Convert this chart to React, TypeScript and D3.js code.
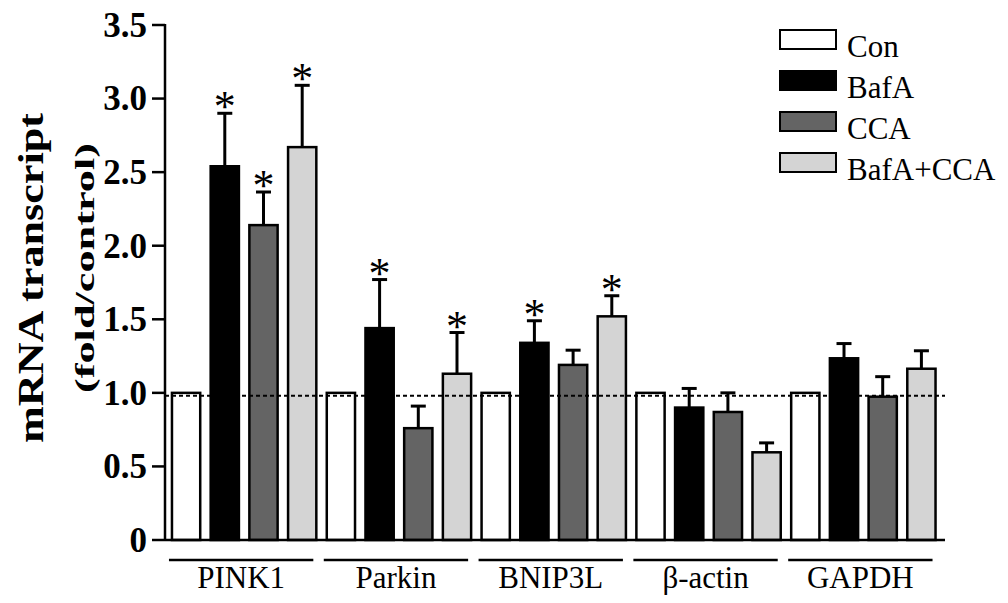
import React from "react";
import * as d3 from "d3";

const genes = ["PINK1", "Parkin", "BNIP3L", "β-actin", "GAPDH"];
const treatments = ["Con", "BafA", "CCA", "BafA+CCA"];
const fills = ["#ffffff", "#000000", "#646464", "#d4d4d4"];
// mean values per gene, in treatment order
const meanPINK1 = [1.0, 2.54, 2.14, 2.67];
const meanParkin = [1.0, 1.44, 0.76, 1.13];
const meanBNIP3L = [1.0, 1.34, 1.19, 1.52];
const meanActin = [1.0, 0.9, 0.87, 0.596];
const meanGAPDH = [1.0, 1.235, 0.974, 1.164];
// upper error (top of error bar minus mean)
const errPINK1 = [0, 0.36, 0.225, 0.42];
const errParkin = [0, 0.33, 0.15, 0.28];
const errBNIP3L = [0, 0.15, 0.1, 0.14];
const errActin = [0, 0.13, 0.13, 0.064];
const errGAPDH = [0, 0.1, 0.136, 0.122];
const sigPINK1 = [false, true, true, true];
const sigParkin = [false, true, false, true];
const sigBNIP3L = [false, true, false, true];
const sigActin = [false, false, false, false];
const sigGAPDH = [false, false, false, false];
const yTicks = [0, 0.5, 1.0, 1.5, 2.0, 2.5, 3.0, 3.5];
const refLine = 0.98;

const means = [meanPINK1, meanParkin, meanBNIP3L, meanActin, meanGAPDH];
const errs = [errPINK1, errParkin, errBNIP3L, errActin, errGAPDH];
const sigs = [sigPINK1, sigParkin, sigBNIP3L, sigActin, sigGAPDH];

const FONT = "'Liberation Serif', 'Times New Roman', Times, serif";

export default function App() {
  const W = 1008, H = 603;
  const x0 = 165, x1 = 945, yTop = 25, yBot = 540;
  const y = d3.scaleLinear().domain([0, 3.5]).range([yBot, yTop]);
  const idx = d3.range(genes.length * treatments.length);
  const x = d3
    .scaleBand<number>()
    .domain(idx)
    .range([x0, 942.5])
    .paddingInner(0.27)
    .paddingOuter(0.18);
  const bw = x.bandwidth();

  const bars: any[] = [];
  genes.forEach((g, gi) => {
    treatments.forEach((t, ti) => {
      const i = gi * 4 + ti;
      bars.push({ gi, ti, i, v: means[gi][ti], e: errs[gi][ti], s: sigs[gi][ti] });
    });
  });

  return (
    <svg width={W} height={H} style={{ display: "block", position: "absolute", left: 0, top: 0 }} fontFamily={FONT}>
      <rect width={W} height={H} fill="#fff" />
      {/* y title */}
      <text
        transform={`translate(43,278) rotate(-90)`}
        textAnchor="middle"
        fontWeight="bold"
        fontSize={35}
        textLength={330}
        lengthAdjust="spacingAndGlyphs"
      >
        mRNA transcript
      </text>
      <text
        transform={`translate(94,268) rotate(-90)`}
        textAnchor="middle"
        fontWeight="bold"
        fontSize={27}
        textLength={250}
        lengthAdjust="spacingAndGlyphs"
      >
        (fold/control)
      </text>
      {/* y axis */}
      <line x1={x0} x2={x0} y1={yTop - 1} y2={yBot + 1} stroke="#000" strokeWidth={2.5} />
      {yTicks.map((t) => (
        <g key={t}>
          <line x1={152} x2={x0} y1={y(t)} y2={y(t)} stroke="#000" strokeWidth={2.5} />
          <text x={147} y={y(t)} dy="0.34em" textAnchor="end" fontWeight="bold" fontSize={35}>
            {t === 0 ? "0" : t.toFixed(1)}
          </text>
        </g>
      ))}
      {/* bars */}
      {bars.map((b) => {
        const bx = x(b.i)!;
        const cx = bx + bw / 2;
        return (
          <g key={b.i}>
            {b.e > 0 && (
              <g stroke="#000" strokeWidth={3}>
                <line x1={cx} x2={cx} y1={y(b.v)} y2={y(b.v + b.e)} />
                <line x1={cx - 7.5} x2={cx + 7.5} y1={y(b.v + b.e)} y2={y(b.v + b.e)} />
              </g>
            )}
            <rect
              x={bx}
              y={y(b.v)}
              width={bw}
              height={yBot - y(b.v)}
              fill={fills[b.ti]}
              stroke="#000"
              strokeWidth={2.5}
            />
            {b.s && (
              <text x={cx} y={y(b.v + b.e) + 8} textAnchor="middle" fontSize={44}>
                *
              </text>
            )}
          </g>
        );
      })}
      {/* reference dashed line */}
      <line x1={x0} x2={x1} y1={y(refLine)} y2={y(refLine)} stroke="#000" strokeWidth={2} strokeDasharray="4,3" />
      {/* x axis */}
      <line x1={x0} x2={x1} y1={yBot} y2={yBot} stroke="#000" strokeWidth={2.5} />
      {/* group labels */}
      {genes.map((g, gi) => {
        const a = x(gi * 4)! - 3;
        const bEnd = x(gi * 4 + 3)! + bw - 3;
        return (
          <g key={g}>
            <line x1={a} x2={bEnd} y1={560} y2={560} stroke="#000" strokeWidth={2.5} />
            <text x={(a + bEnd) / 2} y={588} textAnchor="middle" fontSize={31}>
              {g}
            </text>
          </g>
        );
      })}
      {/* legend */}
      {treatments.map((t, ti) => (
        <g key={t} transform={`translate(780,${30 + ti * 41})`}>
          <rect x={0} y={0} width={56} height={19} fill={fills[ti]} stroke="#000" strokeWidth={2} />
          <text x={67} y={27} fontSize={31}>
            {t}
          </text>
        </g>
      ))}
    </svg>
  );
}
